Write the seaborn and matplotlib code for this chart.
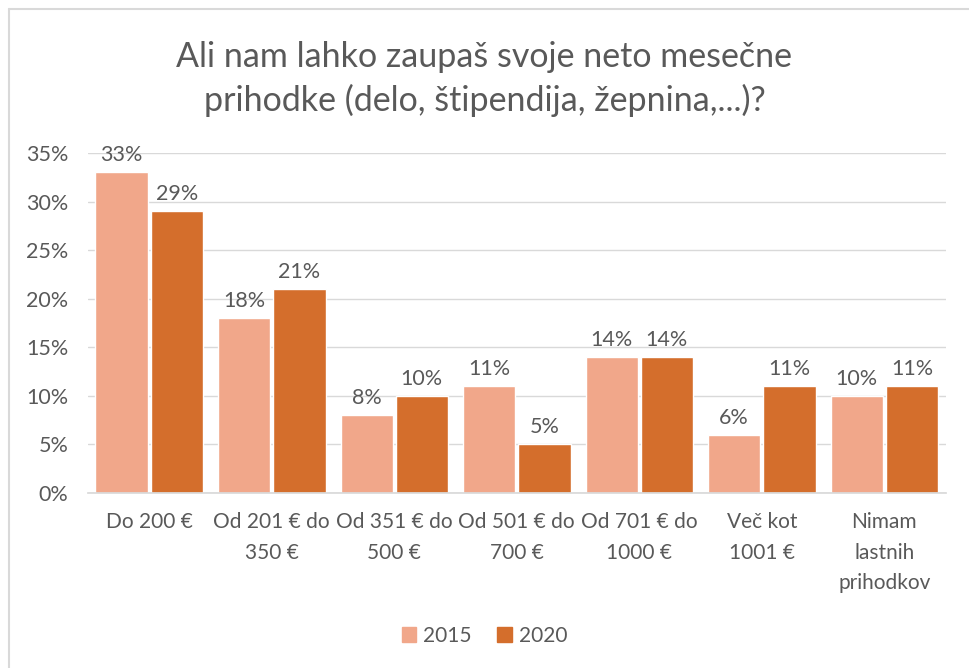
import matplotlib
matplotlib.use("Agg")
import matplotlib.pyplot as plt
from matplotlib.lines import Line2D
from matplotlib.ticker import PercentFormatter
import pandas as pd
import seaborn as sns

categories = ["Do 200 €", "Od 201 € do\n350 €", "Od 351 € do\n500 €", "Od 501 € do\n700 €",
              "Od 701 € do\n1000 €", "Več kot\n1001 €", "Nimam\nlastnih\nprihodkov"]
years = ["2015", "2020"]
values_2015 = [0.33, 0.18, 0.08, 0.11, 0.14, 0.06, 0.10]
values_2020 = [0.29, 0.21, 0.10, 0.05, 0.14, 0.11, 0.11]

df = pd.DataFrame({
    "kategorija": categories * 2,
    "leto": [years[0]] * len(categories) + [years[1]] * len(categories),
    "delez": values_2015 + values_2020,
})

sns.set_theme(style="white")
plt.rcParams['font.family'] = ['Lato', 'DejaVu Sans']
siva = "#595959"

fig = plt.figure(figsize=(9.69, 6.68), dpi=100)
ax = fig.add_axes([0.0908, 0.262, 0.885, 0.509])

sns.barplot(data=df, x="kategorija", y="delez", hue="leto",
            palette=["#F1A78A", "#D46E2C"], width=0.9, gap=0.05,
            saturation=1, errorbar=None, ax=ax, legend=True)

for c in ax.containers:
    ax.bar_label(c, labels=[f"{v * 100:.0f}%" for v in c.datavalues],
                 padding=5, fontsize=15.5, color=siva)

ax.set_ylim(0, 0.35)
ax.set_xlim(-0.5, len(categories) - 0.5)
ax.yaxis.set_major_formatter(PercentFormatter(1.0, decimals=0))
ax.set_yticks([i * 0.05 for i in range(8)])
ax.grid(axis="y", color="#D9D9D9", linewidth=1)
ax.set_axisbelow(True)
for s in ["top", "right", "left"]:
    ax.spines[s].set_visible(False)
ax.spines["bottom"].set_color("#D9D9D9")
ax.tick_params(axis="y", length=0, pad=14, labelsize=15.5, labelcolor=siva)
ax.tick_params(axis="x", length=0, pad=14, labelsize=15, labelcolor=siva)
for lbl in ax.get_xticklabels():
    lbl.set_linespacing(1.65)
ax.set_xlabel("")
ax.set_ylabel("")

ax.get_legend().remove()
handles = [plt.Rectangle((0, 0), 1, 1, color=col) for col in ["#F1A78A", "#D46E2C"]]
fig.legend(handles, years, loc="center", bbox_to_anchor=(0.5, 0.048), ncol=2,
           frameon=False, fontsize=15, labelcolor=siva, handlelength=0.7,
           handleheight=0.7, handletextpad=0.35, columnspacing=1.2)

fig.text(0.5, 0.882, "Ali nam lahko zaupaš svoje neto mesečne\nprihodke (delo, štipendija, žepnina,...)?",
         ha="center", va="center", fontsize=24.5, color=siva, linespacing=1.4)

# okvir grafa (levo in zgoraj)
fig.add_artist(Line2D([8.5 / 969, 8.5 / 969], [0, 1 - 9 / 668], color="#D9D9D9", lw=1.5))
fig.add_artist(Line2D([8.5 / 969, 1], [1 - 9 / 668, 1 - 9 / 668], color="#D9D9D9", lw=1.5))

fig.savefig("out.png", dpi=100)
